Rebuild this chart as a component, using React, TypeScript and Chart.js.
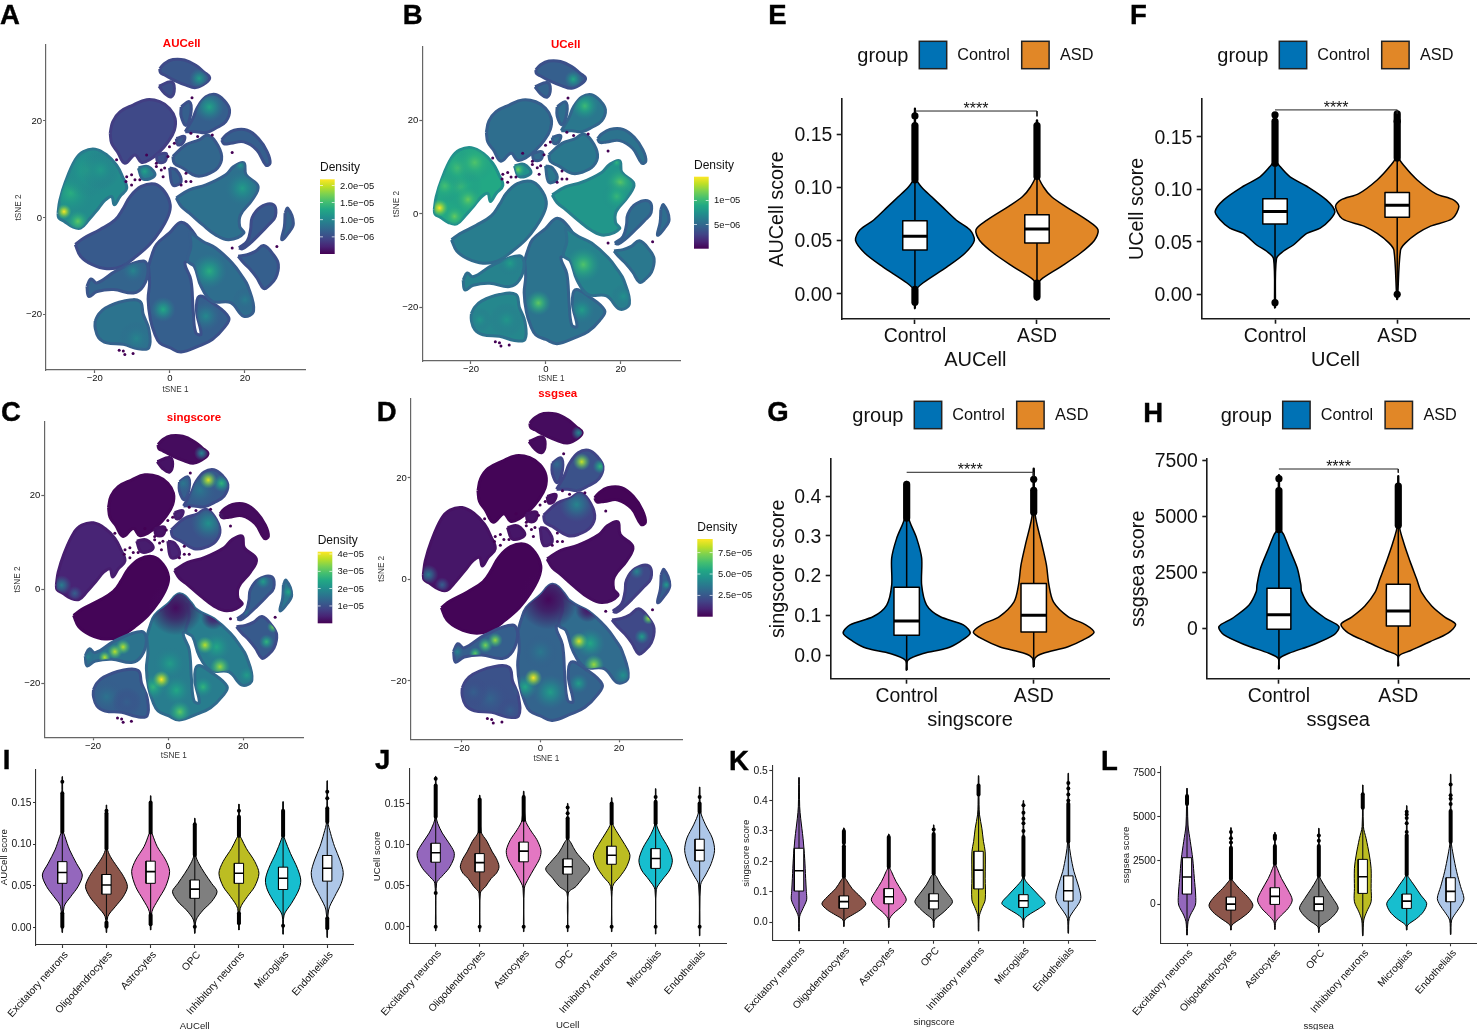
import React, { useEffect, useRef } from "react";
import { Chart, registerables } from "chart.js";

Chart.register(...registerables);

const FONT = "'Liberation Sans', Arial, sans-serif";

/* ---------- tSNE clusters ---------- */
const C_CRESCENT = [[-2.7,30.7],[-1.4,31.8],[.8,32.6],[3.9,32.5],[6.9,31.4],[9.1,30],[10.6,28.9],[9.6,27.8],[6.9,26.8],[4.3,27.3],[1.2,28.3],[-1.4,29.4],[-2.5,29.9]];
const C_TAIL = [[-2.9,27.1],[0.35,28],[1.2,26.6],[0.35,24.9],[-1.4,25.6]];
const C_OVAL = [[-15.9,17.4],[-15.2,19.8],[-13.3,21.8],[-9.8,23.2],[-6.2,24.3],[-2.7,23.9],[-.1,22.5],[1.4,20.4],[1.2,18],[-.5,15.6],[-2.7,13.6],[-5.4,11.9],[-7.6,11.4],[-9.3,12.9],[-12,11.2],[-14,13.6],[-15.5,15.3]];
const C_LEFT = [[-29.8,.9],[-29.3,3.6],[-27.8,7.4],[-25.2,11.9],[-23,13.6],[-19.9,14.1],[-16.8,12.9],[-14.2,10.8],[-12.6,8.4],[-11.5,6],[-13.3,4.3],[-14.8,2.6],[-15.5,4.3],[-17.2,3.6],[-19,1.9],[-21.6,-.5],[-23.8,-2.2],[-26,-1.9],[-28.2,-.8],[-29.6,-.1]];
const C_CENTER = [[-25.2,-5.6],[-23,-4.3],[-18.6,-2.5],[-14.6,-.5],[-12.4,1.9],[-10.6,4.3],[-7.6,6.4],[-4,6.9],[-1.4,5.3],[.1,2.6],[-.5,.2],[-2.7,-2.9],[-5.4,-5.6],[-8.9,-8],[-12.8,-10.1],[-16.8,-10.6],[-20.8,-9.7],[-23.8,-8]];
const C_RIGHTMID = [[1.7,4],[5.2,5.7],[9.6,6.7],[14.9,8.8],[17,10.5],[19.7,11.3],[20.3,8.8],[23.5,6.4],[21.9,3.6],[18.8,.5],[18.6,-1.9],[19.7,-3.2],[15.7,-4.6],[12.2,-3.6],[8.7,-1.5],[5.2,.9],[3,2.3]];
const C_TOPRIGHT = [[4.1,17.7],[6.1,20.4],[7.4,22.8],[9.6,24.9],[12.2,25.4],[14.4,24.2],[15.9,22.2],[14.9,19.8],[12.2,18.4],[9.6,17.5],[6.9,17.7]];
const C_SLIVER = [[3,22.8],[5.2,23.9],[5.6,21.5],[4.3,19],[3,20.9]];
const C_BELOW = [[.8,12.6],[4.3,15],[7.8,16],[10,17],[12.2,15.6],[13.8,12.6],[12.7,10.2],[9.6,8.8],[6.9,8.6],[3.4,10.2],[1.2,11.2]];
const C_BANANA = [[13.8,16],[14.9,17],[17.1,18],[20.6,18],[23.6,16.3],[25.9,13.6],[26.7,11.2],[25.6,10.8],[23.2,13.9],[19.7,15.6],[16.2,15.3],[14.4,15.2]];
const C_TEAR = [[18.4,-6.3],[20.6,-4.9],[21.5,-2.5],[21.9,-.1],[24.1,2.1],[27.6,2.6],[28.1,.2],[26.3,-1.5],[23.7,-3.6],[21,-5.6],[19.3,-6.5]];
const C_FARRIGHT = [[30.7,0.9],[31.4,1.9],[32.9,-1.2],[31.6,-3.2],[29.8,-4.6],[30.5,-1.9]];
const C_LOWRIGHT = [[18.2,-8],[20.6,-7.7],[22.8,-7],[25,-5.8],[27.6,-7.7],[28.9,-9.7],[28.2,-12.5],[26.3,-14.2],[25,-14.7],[23.2,-12.5],[21.5,-10.8],[19.7,-9.4]];
const C_BOTTOM = [[-5.7,-10.1],[-4.9,-8],[-3.6,-5.6],[-.1,-3.2],[3,-1],[6.1,-2.9],[7.4,-5.3],[5.6,-8.8],[4,-9.4],[5.6,-12.9],[6.2,-19],[6.9,-23.8],[8.3,-24.1],[7.1,-19.3],[7.8,-16.3],[11.3,-17.6],[15.7,-20.7],[14.4,-22.8],[11.3,-25.2],[7.8,-26.5],[3,-27.8],[0,-26.9],[-2.7,-25.9],[-4,-24.1],[-5.2,-21],[-5.8,-16.9],[-5.4,-13.5]];
const C_LOBE = [[5.2,-2.9],[8.7,-4.9],[12.2,-6.3],[16.6,-9.4],[19.2,-12.1],[20.8,-14.2],[22.3,-19.3],[19.7,-20.4],[16.2,-17.6],[11.3,-17.3],[8.3,-14.2],[6.5,-10.1],[4.7,-9],[5.6,-6]];
const C_STREAK = [[-22.1,-14.2],[-21,-12.7],[-19.4,-13.5],[-14.2,-11],[-7.1,-9],[-5.8,-10.8],[-7.1,-14.2],[-9.7,-15.6],[-15,-14.9],[-19.4,-15.3],[-21.6,-16.3]];
const C_BOTLEFT = [[-19.9,-21.4],[-19,-20],[-17.2,-18.7],[-12.4,-17.3],[-8,-17.3],[-7.1,-20],[-5.6,-23.1],[-5.6,-26.9],[-8.4,-27.1],[-12.4,-26.2],[-16.8,-25.9],[-19,-24.8],[-19.9,-22.8]];
const C_SMALL1 = [[-8.4,10.2],[-5.8,10.5],[-4,8.7],[-7.1,7.9]];
const C_SMALL2 = [[-0.1,10.2],[1.7,9.8],[3,7.4],[0.8,6.7]];
const C_SMALL3 = [[-3.6,12.9],[-1,13.2],[-1.4,11.5],[-3.2,11.5]];
const C_SMALL4 = [[1.7,16.3],[3.9,16.7],[3.4,15.3],[2.1,15]];
const CLUSTERS = [C_CRESCENT,C_TAIL,C_OVAL,C_LEFT,C_CENTER,C_RIGHTMID,C_TOPRIGHT,C_SLIVER,C_BELOW,C_BANANA,C_TEAR,C_FARRIGHT,C_LOWRIGHT,C_BOTTOM,C_LOBE,C_STREAK,C_BOTLEFT,C_SMALL1,C_SMALL2,C_SMALL3,C_SMALL4];
const STRAY_CELLS = [[-12,-28.3],[-9.8,-28.1],[-13.5,-27.4],[-12.4,-27.6],[16.6,13.4],[28.5,-6],[16.6,-6.3],[5.9,24.7],[-10.2,8.8],[-9.3,7.8],[-11.5,8.4],[-2.3,9.8],[-1.8,8.4],[-3.6,10.5],[-14.2,11.9],[-11.7,7.4],[-10.2,6.7],[-8,7.8],[-3.6,11.2],[-1.4,10.2],[-.5,12.6],[3,6.7],[4.3,7.4],[5.6,7.4],[4.3,9.1],[5.6,17.4],[7.4,16.7],[11.3,17],[1.2,15.3],[-.1,14.6],[-6.2,12.9]];

const A_BASE = [.27,.24,.22,.48,.28,.37,.3,.3,.33,.3,.28,.32,.3,.3,.36,.32,.38,.42,.3,.25,.28];
const B_BASE = [.3,.32,.36,.6,.42,.52,.4,.36,.4,.38,.36,.36,.4,.38,.44,.44,.46,.5,.4,.35,.36];
const C_BASE = [.03,.05,.02,.1,.01,.05,.28,.3,.25,.03,.3,.4,.28,.42,.42,.38,.3,.08,.1,.05,.1];
const D_BASE = [.03,.03,.01,.06,.01,.04,.25,.25,.2,.01,.22,.3,.22,.32,.35,.3,.25,.06,.1,.05,.05];

/* hot spots: x, y, size, density fraction */
const A_HOT = [[-26.5,5,20,.62],[-22,9.8,22,.58],[-18.5,9.8,16,.54],[-24.5,-0.8,9,.75],[-28.2,1.2,6,1],[10.5,-11.1,14,.62],[10.5,22.8,12,.58],[-1.8,-19,10,.6],[19.3,6,14,.55],[-6.7,9.5,6,.58],[7.8,28.7,8,.55],[18.8,10.7,5,.52],[-9.8,-11,10,.45],[-8.9,-25,14,.45],[9.6,-20.4,12,.47],[20,-17,10,.42]];
const B_HOT = [[-23,5.9,18,.68],[-27,5.9,14,.7],[-23.5,9.8,16,.7],[-19,10.9,16,.72],[-20.8,3,11,.76],[-24.4,-0.6,9,.76],[-28.4,1.2,7,1],[19.8,6.6,12,.74],[18.9,3.7,12,.66],[10,-10.9,14,.72],[10.4,23,11,.68],[-2,-19.1,10,.75],[-7.4,9.4,6,.78],[18.9,10.9,5,.65],[-9.6,-10.6,10,.55],[9.6,-20.6,11,.55],[7.3,28.7,7,.6],[-10.5,-22.7,14,.52],[-17.7,-22.7,10,.52],[20.7,-17.7,10,.5]];
const C_HOT = [[2,-4,22,.03],[12,-6,10,.08],[8.4,21,14,.4],[10.7,14,14,.5],[4,22.5,8,.4],[.4,-15.8,14,.55],[2.2,-21.5,12,.6],[-4,-20.8,10,.65],[3.1,-26.1,9,.75],[12.9,-12.3,12,.6],[10.7,23.2,7,.95],[14.2,22.5,7,.65],[-1.8,-19.2,7,1],[9.8,-11.9,7,.9],[13.8,-16.5,8,.85],[9.3,-20.8,8,.65],[20.9,-18.3,8,.55],[-12,-12.3,6,.9],[-14.2,-13.3,6,.9],[-16.9,-14.5,5,.9],[-21.3,-14.4,5,.45],[28,-8,5,.8],[26.2,-11.2,6,.65],[25.3,1.6,6,.55],[32,-.6,5,.6],[20.4,-4.8,4,.45],[-28.4,.85,8,.42],[-24.9,-.9,6,.3],[-16.4,-22.9,14,.38],[-11,-24,12,.3],[8.9,28.9,6,.45]];
const D_HOT = [[2,-4,24,.02],[12,-6,10,.06],[9.2,14.7,14,.45],[4.2,22.6,7,.35],[0,-14.3,14,.4],[2.5,-22.2,14,.55],[-3.9,-21.2,10,.6],[12.6,-12.6,12,.6],[10.5,23.1,7,.92],[15.2,22.2,6,.65],[-1.8,-19.4,7,1],[9.8,-12.2,7,.95],[13.6,-16.8,8,.85],[9.7,-20.5,8,.55],[21,-18.9,8,.5],[-11.5,-12,6,.85],[-14,-13,6,.8],[-16.6,-14.6,5,.75],[-21.1,-14.3,5,.45],[27.5,-7.7,5,.85],[25.8,-11.3,6,.55],[24.5,1.5,6,.45],[32,-1.1,4,.55],[-28.5,.9,8,.4],[-25,-1.1,6,.3],[9.7,28.8,6,.45],[-12.8,-23.5,16,.32],[-17,-22.2,12,.3],[-7.7,-25.8,10,.3]];

const TSNE_X_TICKS = [-20, 0, 20];
const TSNE_Y_TICKS = [-20, 0, 20];
const A_BAR_TICKS = [5e-6, 1e-5, 1.5e-5, 2e-5];
const A_BAR_LABELS = ["5.0e−06", "1.0e−05", "1.5e−05", "2.0e−05"];
const B_BAR_TICKS = [5e-6, 1e-5];
const B_BAR_LABELS = ["5e−06", "1e−05"];
const C_BAR_TICKS = [1e-5, 2e-5, 3e-5, 4e-5];
const C_BAR_LABELS = ["1e−05", "2e−05", "3e−05", "4e−05"];
const D_BAR_TICKS = [2.5e-5, 5e-5, 7.5e-5];
const D_BAR_LABELS = ["2.5e−05", "5.0e−05", "7.5e−05"];

/* ---------- group violins (E-H) ---------- */
const GROUPS = ["Control", "ASD"];
const GROUP_COLORS = ["#0072B5", "#E18727"];

const E_Y_TICKS = [0, .05, .1, .15];
const E_PROFILES = [
  [[-.014,.003],[.003,.008],[.01,.065],[.025,.26],[.038,.41],[.05,.487],[.06,.45],[.069,.34],[.082,.22],[.091,.137],[.1,.055],[.107,.014],[.119,.005],[.174,.003]],
  [[-.006,.003],[.008,.008],[.013,.03],[.025,.19],[.038,.355],[.05,.47],[.06,.5],[.069,.41],[.082,.232],[.091,.12],[.1,.055],[.111,.01],[.163,.004]],
];
const E_BOXES = [[.041,.054,.0686],[.0476,.0607,.0742]];
const E_DENSE = [[[-.008,.004],[.107,.158]],[[-.003,.01],[.11,.158]]];
const E_DOTS = [[.167],[]];
const E_BRACKET = [.1716,.1666];

const F_Y_TICKS = [0, .05, .1, .15];
const F_PROFILES = [
  [[-.013,.003],[.034,.012],[.041,.068],[.047,.15],[.058,.26],[.063,.37],[.071,.45],[.079,.49],[.09,.42],[.103,.26],[.112,.123],[.122,.04],[.128,.008],[.172,.003]],
  [[-.005,.003],[.042,.027],[.049,.068],[.058,.164],[.065,.273],[.072,.45],[.084,.505],[.09,.46],[.096,.314],[.109,.164],[.122,.06],[.131,.011],[.174,.003]],
];
const F_BOXES = [[.067,.079,.091],[.0734,.085,.097]];
const F_DENSE = [[[.125,.165]],[[.13,.165],[.165,.172]]];
const F_DOTS = [[-.008,.171],[0]];
const F_BRACKET = [.1758,.172];

const G_Y_TICKS = [0, .1, .2, .3, .4];
const G_PROFILES = [
  [[-.038,.003],[-.013,.01],[.004,.13],[.017,.315],[.034,.42],[.055,.5],[.076,.446],[.097,.262],[.126,.157],[.176,.118],[.244,.118],[.294,.079],[.349,.013],[.437,.003]],
  [[-.03,.003],[-.008,.01],[.004,.07],[.021,.27],[.038,.39],[.057,.475],[.076,.41],[.097,.27],[.134,.155],[.176,.12],[.227,.1],[.277,.066],[.357,.01],[.47,.003]],
];
const G_BOXES = [[.05,.0857,.171],[.058,.1,.18]];
const G_DENSE = [[[.345,.43]],[[.36,.415]]];
const G_DOTS = [[],[.443]];
const G_BRACKET = [.4605,.45];

const H_Y_TICKS = [0, 2500, 5000, 7500];
const H_PROFILES = [
  [[-1815,.003],[-1340,.006],[-1116,.084],[-744,.28],[-298,.46],[74,.503],[446,.39],[1042,.25],[1637,.19],[1935,.184],[2679,.154],[3423,.098],[4167,.042],[4464,.011],[6845,.003]],
  [[-1680,.003],[-1230,.006],[-1000,.1],[-600,.265],[-200,.42],[180,.48],[500,.39],[1000,.28],[1600,.195],[2200,.154],[3000,.098],[3800,.047],[4600,.008],[6800,.003]],
];
const H_BOXES = [[-45,610,1786],[104,774,1964]];
const H_DENSE = [[[4400,6150]],[[4600,6350]]];
const H_DOTS = [[6680],[]];
const H_BRACKET = [7113,6950];

/* ---------- cell-type violins (I-L) ---------- */
const CELL_TYPES = ["Excitatory neurons","Oligodendrocytes","Astrocytes","OPC","Inhibitory neurons","Microglias","Endothelials"];
const CELL_COLORS = ["#9467BD","#8C564B","#E377C2","#7F7F7F","#BCBD22","#17BECF","#AEC7E8"];

const I_Y_TICKS = [0, .05, .1, .15];
const I_PROFILES = [
  [[-.006,.005],[.025,.04],[.037,.19],[.049,.355],[.063,.453],[.077,.32],[.093,.166],[.109,.06],[.117,.015],[.181,.005]],
  [[-.006,.005],[.013,.03],[.025,.2],[.037,.38],[.049,.475],[.061,.39],[.073,.24],[.085,.09],[.095,.02],[.147,.005]],
  [[-.003,.005],[.019,.03],[.033,.166],[.049,.34],[.067,.43],[.081,.34],[.097,.15],[.111,.045],[.117,.012],[.158,.005]],
  [[-.007,.005],[.009,.03],[.021,.19],[.031,.38],[.043,.505],[.053,.38],[.065,.226],[.077,.09],[.087,.02],[.131,.005]],
  [[-.003,.005],[.023,.03],[.037,.19],[.049,.355],[.065,.453],[.079,.36],[.095,.166],[.107,.053],[.111,.015],[.148,.005]],
  [[-.008,.005],[.015,.023],[.029,.19],[.045,.355],[.057,.4],[.071,.325],[.089,.166],[.105,.045],[.111,.015],[.151,.005]],
  [[-.012,.005],[.021,.03],[.037,.166],[.053,.317],[.066,.362],[.081,.287],[.097,.166],[.113,.075],[.127,.015],[.176,.005]],
];
const I_BOXES = [[.053,.066,.079],[.04,.051,.0636],[.053,.067,.0796],[.035,.046,.057],[.053,.065,.077],[.0456,.059,.0724],[.0556,.071,.0864]];
const I_DENSE = [[[.001,.017],[.115,.161]],[[.001,.006],[.095,.137]],[[.004,.015],[.114,.15]],[[.087,.124]],[[.005,.017],[.11,.133]],[[.11,.14]],[[-.001,.011],[.127,.143]]];
const I_DOTS = [[.175],[.14],[],[.001],[.14],[.002],[.155,.163]];

const J_Y_TICKS = [0, .05, .1, .15];
const J_PROFILES = [
  [[-.005,.005],[.053,.02],[.061,.136],[.071,.3],[.083,.41],[.091,.417],[.102,.3],[.114,.15],[.126,.045],[.134,.012],[.183,.005]],
  [[-.006,.005],[.041,.015],[.049,.136],[.059,.265],[.065,.38],[.073,.44],[.083,.38],[.091,.288],[.104,.166],[.116,.03],[.16,.005]],
  [[-.006,.005],[.047,.015],[.059,.114],[.071,.242],[.083,.364],[.093,.394],[.106,.3],[.118,.15],[.13,.038],[.165,.005]],
  [[-.006,.005],[.041,.015],[.049,.19],[.059,.34],[.07,.5],[.079,.38],[.091,.19],[.102,.076],[.108,.015],[.15,.005]],
  [[-.006,.005],[.049,.023],[.061,.19],[.073,.34],[.087,.417],[.1,.3],[.114,.136],[.126,.023],[.157,.005]],
  [[-.009,.005],[.045,.015],[.057,.15],[.069,.32],[.081,.38],[.096,.288],[.112,.114],[.126,.015],[.168,.005]],
  [[-.011,.005],[.051,.023],[.063,.136],[.077,.265],[.093,.34],[.108,.288],[.124,.136],[.14,.023],[.17,.005]],
];
const J_BOXES = [[.0785,.09,.1016],[.0667,.078,.089],[.079,.092,.103],[.064,.073,.0825],[.076,.087,.098],[.071,.083,.095],[.08,.093,.1065]];
const J_DENSE = [[[.134,.172]],[[.116,.155]],[[.13,.158]],[[.108,.132]],[[.126,.15]],[[.126,.152]],[[.14,.15]]];
const J_DOTS = [[0,.041,.18],[0],[0],[0,.138,.145],[0],[0,.158],[0,.158]];

const K_Y_TICKS = [0, .1, .2, .3, .4, .5];
const K_PROFILES = [
  [[-.03,.005],[.018,.015],[.045,.09],[.073,.17],[.1,.163],[.144,.148],[.21,.126],[.276,.09],[.342,.037],[.38,.015],[.476,.005]],
  [[-.015,.005],[.007,.022],[.023,.185],[.04,.37],[.06,.49],[.083,.37],[.11,.185],[.138,.06],[.15,.015],[.31,.005]],
  [[-.018,.005],[.012,.022],[.034,.148],[.05,.28],[.073,.39],[.1,.3],[.133,.163],[.166,.06],[.182,.015],[.29,.005]],
  [[-.018,.005],[.007,.022],[.028,.185],[.045,.31],[.067,.42],[.095,.3],[.122,.163],[.15,.06],[.16,.015],[.32,.005]],
  [[-.03,.005],[.018,.015],[.045,.074],[.073,.148],[.144,.148],[.232,.148],[.265,.11],[.309,.074],[.353,.022],[.386,.011],[.482,.005]],
  [[-.018,.005],[.01,.022],[.028,.163],[.045,.356],[.062,.482],[.089,.334],[.116,.163],[.138,.037],[.152,.015],[.4,.005]],
  [[-.037,.005],[.012,.022],[.04,.133],[.062,.237],[.083,.28],[.122,.22],[.166,.126],[.22,.052],[.265,.015],[.49,.005]],
];
const K_BOXES = [[.102,.169,.243],[.045,.067,.086],[.06,.083,.11],[.043,.069,.093],[.109,.171,.233],[.048,.07,.09],[.069,.103,.152]];
const K_DENSE = [[],[[.15,.25],[.26,.3]],[[.182,.28]],[[.16,.29]],[[.42,.45]],[[.152,.28]],[[.265,.39]]];
const K_DOTS = [[],[],[],[.305],[],[.3,.325,.34,.36,.385],[.4,.42,.44,.458]];

const L_Y_TICKS = [0, 2500, 5000, 7500];
const L_PROFILES = [
  [[-1766,.005],[-1006,.023],[-627,.076],[-57,.19],[513,.197],[1462,.167],[2600,.129],[3551,.076],[4500,.023],[6590,.005]],
  [[-1481,.005],[-1196,.023],[-817,.228],[-437,.417],[-57,.5],[418,.38],[893,.19],[1272,.06],[1462,.015],[4350,.005]],
  [[-1443,.005],[-1006,.023],[-627,.15],[-247,.3],[228,.395],[798,.3],[1462,.15],[2032,.053],[2317,.015],[4083,.005]],
  [[-1614,.005],[-1291,.023],[-911,.228],[-532,.38],[-209,.44],[323,.32],[893,.167],[1367,.053],[1614,.015],[4311,.005]],
  [[-1804,.005],[-911,.023],[-437,.09],[133,.19],[893,.19],[2032,.19],[2790,.15],[3741,.076],[4406,.015],[6780,.005]],
  [[-1481,.005],[-1196,.023],[-817,.228],[-437,.38],[38,.455],[513,.32],[1082,.167],[1462,.06],[1690,.015],[5600,.005]],
  [[-1728,.005],[-911,.023],[-437,.137],[-57,.243],[323,.303],[988,.228],[1842,.137],[2790,.06],[3551,.015],[7387,.005]],
];
const L_BOXES = [[570,1538,2640],[-342,0,399],[-19,437,931],[-380,0,418],[608,1557,2545],[-247,171,570],[133,722,1500]];
const L_DENSE = [[[5700,6150]],[[1462,3200]],[[2317,3300],[3700,3900]],[[1614,3300]],[[5488,6250]],[[1690,3900]],[[3551,5300]]];
const L_DOTS = [[],[3500,3750,4100],[],[3600,3900],[],[4100,4600,4900,5100,5250],[5700,6000,6200,6800]];

/* ---------- helpers ---------- */
const VIRIDIS = [[68,1,84],[72,36,117],[65,68,135],[53,95,141],[42,120,142],[33,145,140],[34,168,132],[68,191,112],[122,209,81],[189,223,38],[253,231,37]];
function viridis(t: number, a = 1) {
  const p = Math.max(0, Math.min(0.9999, t)) * 10;
  const i = Math.floor(p), f = p - i;
  const c = VIRIDIS[i].map((v, k) => Math.round(v + (VIRIDIS[i + 1][k] - v) * f));
  return `rgba(${c[0]},${c[1]},${c[2]},${a})`;
}

type Layout = { frame: number[]; plot: number[]; xTitleY: number; yTitleX: number; xFont: number; yFont: number };

function frameOptions(l: Layout) {
  const [cx, cy, cw, ch] = l.frame;
  const [L, T, R, B] = l.plot;
  const xH = l.xTitleY - B + (l.xFont * 1.2) / 2;
  const yW = L - l.yTitleX + (l.yFont * 1.2) / 2;
  return { xH, yW, padding: { left: L - cx - yW, top: T - cy, right: cx + cw - R, bottom: cy + ch - B - xH } };
}

function makeScale(o: any) {
  return {
    type: "linear",
    min: o.min,
    max: o.max,
    afterBuildTicks: (a: any) => { a.ticks = o.ticks.map((value: number) => ({ value })); },
    afterFit: (s: any) => {
      if (o.height !== undefined) s.height = o.height;
      if (o.width !== undefined) s.width = o.width;
      s.paddingLeft = s.paddingRight = s.paddingTop = s.paddingBottom = 0;
    },
    border: { display: true, color: o.axisColor, width: o.axisWidth },
    grid: { drawOnChartArea: false, drawTicks: true, tickLength: o.tickLen, tickColor: o.axisColor, tickWidth: o.axisWidth },
    ticks: {
      autoSkip: false,
      includeBounds: false,
      padding: o.pad,
      labelOffset: o.labelOffset || 0,
      color: "#111",
      font: { family: FONT, size: o.size },
      callback: o.format,
      minRotation: o.rotation || 0,
      maxRotation: o.rotation || 0,
    },
    title: { display: true, text: o.title, color: o.titleColor, padding: 0, font: { family: FONT, size: o.titleSize } },
  };
}

const closed = (pts: number[][]) => [...pts, pts[0]].map(([x, y]) => ({ x, y }));

function violinSets(cx: number, prof: number[][], box: number[], dense: number[][], dots: number[], color: string, st: any) {
  const right = prof.map(([y, w]) => ({ x: cx + w, y }));
  const left = prof.slice().reverse().map(([y, w]) => ({ x: cx - w, y }));
  const base = { showLine: true, pointRadius: 0, borderJoinStyle: "round" };
  const out: any[] = [];
  out.push({ ...base, data: [...right, ...left, right[0]], fill: "shape", backgroundColor: color, borderColor: "#000", borderWidth: st.outline, tension: 0.3 });
  out.push({ ...base, data: [{ x: cx, y: prof[0][0] }, { x: cx, y: prof[prof.length - 1][0] }], borderColor: st.centerColor, borderWidth: st.center });
  dense.forEach(([a, b]) => out.push({ ...base, data: [{ x: cx, y: a }, { x: cx, y: b }], borderColor: "#000", borderWidth: st.dot * 2, borderCapStyle: "round" }));
  if (dots.length) out.push({ showLine: false, data: dots.map((y) => ({ x: cx, y })), pointRadius: st.dot, pointBackgroundColor: "#000", pointBorderWidth: 0 });
  out.push({ ...base, data: closed([[cx - st.boxW, box[0]], [cx + st.boxW, box[0]], [cx + st.boxW, box[2]], [cx - st.boxW, box[2]]]), fill: "shape", backgroundColor: "#fff", borderColor: "#000", borderWidth: st.box, tension: 0 });
  out.push({ ...base, data: [{ x: cx - st.boxW, y: box[1] }, { x: cx + st.boxW, y: box[1] }], borderColor: "#000", borderWidth: st.med });
  return out;
}

/* plugin: clips hot spots to clusters */
const clipPlugin = {
  id: "clipPlugin",
  beforeDatasetDraw(chart: any, args: any) {
    if (!chart.data.datasets[args.index].isHot) return;
    const ctx = chart.ctx;
    ctx.save();
    ctx.beginPath();
    chart.data.datasets.forEach((d: any, i: number) => {
      if (!d.isCluster) return;
      const line = chart.getDatasetMeta(i).dataset;
      line.updateControlPoints(chart.chartArea, "x");
      line.path(ctx);
      ctx.closePath();
    });
    ctx.clip();
  },
  afterDatasetDraw(chart: any, args: any) {
    if (chart.data.datasets[args.index].isHot) chart.ctx.restore();
  },
};

/* per-chart annotation painter */
const annotate = (draw: (ctx: any, chart: any) => void) => ({
  id: "annotate",
  afterDraw(chart: any) {
    const ctx = chart.ctx;
    ctx.save();
    draw(ctx, chart);
    ctx.restore();
  },
});

function text(ctx: any, s: string, x: number, y: number, font: string, color: string, align = "left", base = "middle") {
  ctx.font = font;
  ctx.fillStyle = color;
  ctx.textAlign = align;
  ctx.textBaseline = base;
  ctx.fillText(s, x, y);
}

function tsneConfig(p: any) {
  const f = frameOptions(p.layout);
  const [ox, oy] = p.layout.frame;
  const datasets: any[] = [];
  CLUSTERS.forEach((c, i) => {
    datasets.push({
      isCluster: true, showLine: true, data: closed(c), fill: "shape", tension: 0.4, pointRadius: 0,
      backgroundColor: viridis(p.base[i]), borderColor: viridis(p.base[i] * 0.82), borderWidth: 3, borderJoinStyle: "round",
    });
  });
  datasets.push({
    type: "bubble", isHot: true, borderWidth: 0,
    data: p.hot.map(([x, y, r, d]: number[]) => ({ x, y, r: r * 1.25, d })),
    backgroundColor: (c: any) => {
      const raw = c.raw;
      const sx = c.chart.scales.x, sy = c.chart.scales.y;
      if (!raw || !sx || !sy) return "rgba(0,0,0,0)";
      const px = sx.getPixelForValue(raw.x), py = sy.getPixelForValue(raw.y);
      if (!Number.isFinite(px) || !Number.isFinite(py)) return "rgba(0,0,0,0)";
      const g = c.chart.ctx.createRadialGradient(px, py, 0, px, py, Math.max(raw.r, 1));
      g.addColorStop(0, viridis(raw.d, 1));
      g.addColorStop(0.4, viridis(raw.d * 0.88, 0.7));
      g.addColorStop(1, viridis(raw.d * 0.72, 0));
      return g;
    },
  });
  datasets.push({ showLine: false, data: STRAY_CELLS.map(([x, y]) => ({ x, y })), pointRadius: 1.5, pointBackgroundColor: "#440154", pointBorderWidth: 0 });
  datasets.reverse();
  const fmt = (v: number) => String(v).replace("-", "−");
  return {
    type: "scatter",
    data: { datasets },
    plugins: [clipPlugin, annotate((ctx: any) => {
      ctx.translate(-ox, -oy);
      text(ctx, p.title[0], p.title[1], p.title[2], `bold 11.5px ${FONT}`, "#FF0000", "center");
      const [bl, bt, bw, bb, dMax] = p.bar;
      const g = ctx.createLinearGradient(0, bb, 0, bt);
      VIRIDIS.forEach((_, i) => g.addColorStop(i / 10, viridis(i / 10)));
      ctx.fillStyle = g;
      ctx.fillRect(bl, bt, bw, bb - bt);
      text(ctx, "Density", bl, p.barTitleY, `12px ${FONT}`, "#111");
      p.barTicks.forEach((v: number, i: number) => {
        const y = bb - (v / dMax) * (bb - bt);
        ctx.fillStyle = "rgba(255,255,255,.85)";
        ctx.fillRect(bl, y - 0.4, bw * 0.2, 0.8);
        ctx.fillRect(bl + bw * 0.8, y - 0.4, bw * 0.2, 0.8);
        text(ctx, p.barLabels[i], bl + bw + 5.3, y + 0.5, `9.4px ${FONT}`, "#111");
      });
    })],
    options: {
      responsive: false, animation: false, events: [],
      layout: { autoPadding: false, padding: f.padding },
      scales: {
        x: makeScale({ min: -33, max: 36, ticks: TSNE_X_TICKS, height: f.xH, axisColor: "#666", axisWidth: 1.2, tickLen: 3, pad: 0, size: 9.5, format: fmt, title: "tSNE 1", titleColor: "#333", titleSize: 8.2 }),
        y: makeScale({ min: -31.5, max: 35.6, ticks: TSNE_Y_TICKS, width: f.yW, axisColor: "#666", axisWidth: 1.2, tickLen: 3, pad: 1, size: 9.5, labelOffset: 0.5, format: fmt, title: "tSNE 2", titleColor: "#333", titleSize: 8.2 }),
      },
      plugins: { legend: { display: false }, tooltip: { enabled: false } },
    },
  };
}

const GROUP_STYLE = { outline: 1.5, center: 1.5, centerColor: "#000", dot: 3.6, box: 1.5, med: 3, boxW: 0.1 };
const CELL_STYLE = { outline: 1, center: 1.1, centerColor: "#111", dot: 2, box: 1, med: 1.6, boxW: 0.105 };

function groupConfig(p: any) {
  const f = frameOptions(p.layout);
  const [ox, oy] = p.layout.frame;
  let datasets: any[] = [];
  GROUPS.forEach((_, i) => {
    datasets = datasets.concat(violinSets(i, p.profiles[i], p.boxes[i], p.dense[i], p.dots[i], GROUP_COLORS[i], GROUP_STYLE));
  });
  const [by, tip] = p.bracket;
  datasets.push({ showLine: true, pointRadius: 0, borderColor: "#222", borderWidth: 1, data: [{ x: 0, y: by }, { x: 1, y: by }, { x: 1, y: tip }] });
  datasets.reverse();
  return {
    type: "scatter",
    data: { datasets },
    plugins: [annotate((ctx: any, chart: any) => {
      const sx = chart.scales.x, sy = chart.scales.y;
      text(ctx, "****", sx.getPixelForValue(0.5), sy.getPixelForValue(by) + 3, `16px ${FONT}`, "#111", "center", "alphabetic");
      ctx.translate(-ox, -oy);
      const [gx, ly] = p.legend;
      text(ctx, "group", gx, ly + 1, `20px ${FONT}`, "#111");
      [[62, 100], [164.4, 202.7]].forEach(([sw, tx], i) => {
        ctx.fillStyle = GROUP_COLORS[i];
        ctx.strokeStyle = "#222";
        ctx.lineWidth = 1.5;
        ctx.fillRect(gx + sw, ly - 13.7, 27.4, 27.4);
        ctx.strokeRect(gx + sw, ly - 13.7, 27.4, 27.4);
        text(ctx, GROUPS[i], gx + tx, ly + 1, `16.3px ${FONT}`, "#111");
      });
    })],
    options: {
      responsive: false, animation: false, events: [],
      layout: { autoPadding: false, padding: f.padding },
      scales: {
        x: makeScale({ min: p.xr[0], max: p.xr[1], ticks: [0, 1], height: f.xH, axisColor: "#1a1a1a", axisWidth: 1.6, tickLen: 5, pad: 1, size: 19.4, format: (v: number) => GROUPS[v], title: p.xTitle, titleColor: "#111", titleSize: 20 }),
        y: makeScale({ min: p.yr[0], max: p.yr[1], ticks: p.yTicks, width: f.yW, axisColor: "#1a1a1a", axisWidth: 1.6, tickLen: 5, pad: 4.5, size: 19.4, labelOffset: 1.5, format: p.yFormat, title: p.yTitle, titleColor: "#111", titleSize: 19.8 }),
      },
      plugins: { legend: { display: false }, tooltip: { enabled: false } },
    },
  };
}

function cellConfig(p: any) {
  const f = frameOptions(p.layout);
  let datasets: any[] = [];
  CELL_TYPES.forEach((_, i) => {
    datasets = datasets.concat(violinSets(i, p.profiles[i], p.boxes[i], p.dense[i], p.dots[i], CELL_COLORS[i], CELL_STYLE));
  });
  datasets.reverse();
  return {
    type: "scatter",
    data: { datasets },
    options: {
      responsive: false, animation: false, events: [],
      layout: { autoPadding: false, padding: f.padding },
      scales: {
        x: makeScale({ min: p.xr[0], max: p.xr[1], ticks: [0, 1, 2, 3, 4, 5, 6], height: f.xH, axisColor: "#333", axisWidth: 1.1, tickLen: 3, pad: 1, size: 10.2, labelOffset: 4, rotation: 48, format: (v: number) => CELL_TYPES[v], title: p.xTitle, titleColor: "#222", titleSize: 9.6 }),
        y: makeScale({ min: p.yr[0], max: p.yr[1], ticks: p.yTicks, width: f.yW, axisColor: "#333", axisWidth: 1.1, tickLen: 3, pad: 1.5, size: 10.3, labelOffset: 0.5, format: p.yFormat, title: p.yTitle, titleColor: "#222", titleSize: 9.6 }),
      },
      plugins: { legend: { display: false }, tooltip: { enabled: false } },
    },
  };
}

const f2 = (v: number) => v.toFixed(2);
const f1 = (v: number) => v.toFixed(1);
const f0 = (v: number) => String(v);

const PANELS: any[] = [
  { frame: [-10, 20, 400, 380], cfg: () => tsneConfig({ layout: { frame: [-10, 20, 400, 380], plot: [46, 45, 305, 370], xTitleY: 389.3, yTitleX: 18.3, xFont: 8.2, yFont: 8.2 }, base: A_BASE, hot: A_HOT, title: ["AUCell", 181.7, 43.5], bar: [320, 179.3, 14.7, 254, 2.18e-5], barTitleY: 168, barTicks: A_BAR_TICKS, barLabels: A_BAR_LABELS }) },
  { frame: [385, 20, 365, 370], cfg: () => tsneConfig({ layout: { frame: [385, 20, 365, 370], plot: [422.3, 47, 680.7, 361], xTitleY: 379, yTitleX: 396.7, xFont: 8.2, yFont: 8.2 }, base: B_BASE, hot: B_HOT, title: ["UCell", 565.7, 44.7], bar: [694, 176.7, 14.7, 248.7, 1.49e-5], barTitleY: 166, barTicks: B_BAR_TICKS, barLabels: B_BAR_LABELS }) },
  { frame: [-10, 400, 400, 370], cfg: () => tsneConfig({ layout: { frame: [-10, 400, 400, 370], plot: [44.3, 421.7, 303.3, 737.3], xTitleY: 755.7, yTitleX: 17.3, xFont: 8.2, yFont: 8.2 }, base: C_BASE, hot: C_HOT, title: ["singscore", 194, 417.7], bar: [317.7, 551.7, 14.6, 623.3, 4.13e-5], barTitleY: 540.3, barTicks: C_BAR_TICKS, barLabels: C_BAR_LABELS }) },
  { frame: [370, 385, 385, 385], cfg: () => tsneConfig({ layout: { frame: [370, 385, 385, 385], plot: [410.7, 398.3, 682, 739.3], xTitleY: 759, yTitleX: 381.7, xFont: 8.2, yFont: 8.2 }, base: D_BASE, hot: D_HOT, title: ["ssgsea", 557.7, 394], bar: [697.3, 539, 15.4, 616.7, 9.1e-5], barTitleY: 527.5, barTicks: D_BAR_TICKS, barLabels: D_BAR_LABELS }) },
  { frame: [755, 30, 360, 345], cfg: () => groupConfig({ layout: { frame: [755, 30, 360, 345], plot: [841.7, 99, 1109, 319], xTitleY: 360.5, yTitleX: 777.3, xFont: 20, yFont: 19.8 }, xr: [-0.6, 1.59], yr: [-0.0238, 0.1829], yTicks: E_Y_TICKS, yFormat: f2, xTitle: "AUCell", yTitle: "AUCell score", profiles: E_PROFILES, boxes: E_BOXES, dense: E_DENSE, dots: E_DOTS, bracket: E_BRACKET, legend: [857.3, 55] }) },
  { frame: [1115, 30, 362, 345], cfg: () => groupConfig({ layout: { frame: [1115, 30, 362, 345], plot: [1201.7, 99, 1469.3, 318.7], xTitleY: 360.5, yTitleX: 1137.3, xFont: 20, yFont: 19.8 }, xr: [-0.6, 1.59], yr: [-0.0233, 0.1862], yTicks: F_Y_TICKS, yFormat: f2, xTitle: "UCell", yTitle: "UCell score", profiles: F_PROFILES, boxes: F_BOXES, dense: F_DENSE, dots: F_DOTS, bracket: F_BRACKET, legend: [1217.3, 55] }) },
  { frame: [755, 390, 360, 345], cfg: () => groupConfig({ layout: { frame: [755, 390, 360, 345], plot: [830.7, 459, 1109.3, 678.7], xTitleY: 720.5, yTitleX: 778.3, xFont: 20, yFont: 19.8 }, xr: [-0.598, 1.595], yr: [-0.0597, 0.494], yTicks: G_Y_TICKS, yFormat: f1, xTitle: "singscore", yTitle: "singscore score", profiles: G_PROFILES, boxes: G_BOXES, dense: G_DENSE, dots: G_DOTS, bracket: G_BRACKET, legend: [852.3, 415] }) },
  { frame: [1115, 390, 362, 345], cfg: () => groupConfig({ layout: { frame: [1115, 390, 362, 345], plot: [1207.3, 459, 1469.3, 678.7], xTitleY: 720.5, yTitleX: 1138.3, xFont: 20, yFont: 19.8 }, xr: [-0.6, 1.595], yr: [-2250, 7560], yTicks: H_Y_TICKS, yFormat: f0, xTitle: "ssgsea", yTitle: "ssgsea score", profiles: H_PROFILES, boxes: H_BOXES, dense: H_DENSE, dots: H_DOTS, bracket: H_BRACKET, legend: [1220.7, 415] }) },
  { frame: [-10, 760, 378, 280], cfg: () => cellConfig({ layout: { frame: [-10, 760, 378, 280], plot: [36, 769.3, 353.3, 945], xTitleY: 1026.7, yTitleX: 4, xFont: 9.6, yFont: 9.6 }, xr: [-0.596, 6.59], yr: [-0.021, 0.1898], yTicks: I_Y_TICKS, yFormat: f2, xTitle: "AUCell", yTitle: "AUCell score", profiles: I_PROFILES, boxes: I_BOXES, dense: I_DENSE, dots: I_DOTS }) },
  { frame: [368, 760, 362, 280], cfg: () => cellConfig({ layout: { frame: [368, 760, 362, 280], plot: [409.3, 769, 726, 943.7], xTitleY: 1025, yTitleX: 377, xFont: 9.6, yFont: 9.6 }, xr: [-0.6, 6.6], yr: [-0.0207, 0.192], yTicks: J_Y_TICKS, yFormat: f2, xTitle: "UCell", yTitle: "UCell score", profiles: J_PROFILES, boxes: J_BOXES, dense: J_DENSE, dots: J_DOTS }) },
  { frame: [730, 755, 370, 285], cfg: () => cellConfig({ layout: { frame: [730, 755, 370, 285], plot: [772.3, 765.7, 1095.7, 940.7], xTitleY: 1022, yTitleX: 746, xFont: 9.6, yFont: 9.6 }, xr: [-0.595, 6.61], yr: [-0.0616, 0.515], yTicks: K_Y_TICKS, yFormat: f1, xTitle: "singscore", yTitle: "singscore score", profiles: K_PROFILES, boxes: K_BOXES, dense: K_DENSE, dots: K_DOTS }) },
  { frame: [1097, 755, 385, 285], cfg: () => cellConfig({ layout: { frame: [1097, 755, 385, 285], plot: [1160.3, 766.7, 1477, 943.3], xTitleY: 1026, yTitleX: 1126.3, xFont: 9.6, yFont: 9.6 }, xr: [-0.608, 6.6], yr: [-2232, 7820], yTicks: L_Y_TICKS, yFormat: f0, xTitle: "ssgsea", yTitle: "ssgsea score", profiles: L_PROFILES, boxes: L_BOXES, dense: L_DENSE, dots: L_DOTS }) },
];

const LETTERS: [string, number, number][] = [
  ["A", 0, 24], ["B", 402.7, 24.3], ["C", 1, 421], ["D", 376.7, 421], ["E", 768.3, 24], ["F", 1130, 24],
  ["G", 767.3, 420.7], ["H", 1143.3, 421.7], ["I", 2.7, 769.3], ["J", 375, 769.3], ["K", 729, 770], ["L", 1101, 770],
];

function Panel({ p }: { p: any }) {
  const ref = useRef<HTMLCanvasElement>(null);
  useEffect(() => {
    const chart = new Chart(ref.current as any, p.cfg());
    return () => chart.destroy();
  }, []);
  const [x, y, w, h] = p.frame;
  return <canvas ref={ref} width={w} height={h} style={{ position: "absolute", left: x, top: y, width: w, height: h }} />;
}

export default function App() {
  return (
    <div style={{ position: "absolute", left: 0, top: 0, width: 1477, height: 1030, overflow: "hidden", background: "#fff" }}>
      {PANELS.map((p, i) => <Panel key={i} p={p} />)}
      {LETTERS.map(([s, x, base]) => (
        <div key={s} style={{ position: "absolute", left: x, top: base - 25, fontFamily: FONT, fontWeight: "bold", fontSize: 27.5, lineHeight: "normal", color: "#000", WebkitTextStroke: "0.4px #000" }}>{s}</div>
      ))}
    </div>
  );
}
